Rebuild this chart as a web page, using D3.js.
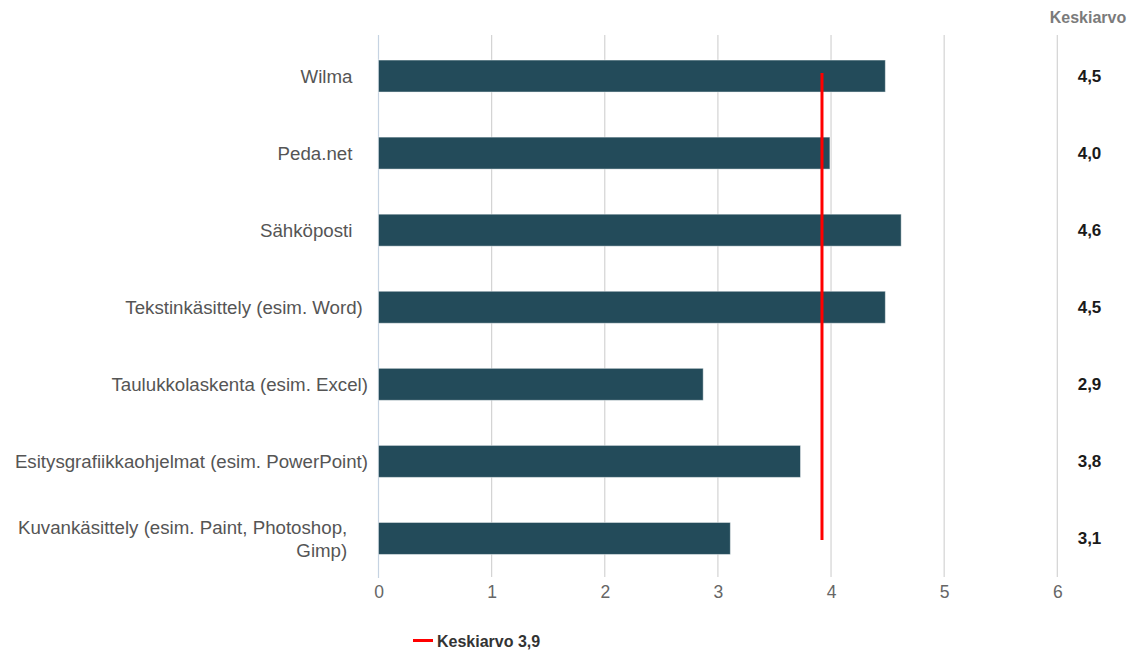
<!DOCTYPE html>
<html><head><meta charset="utf-8">
<script src="https://cdn.jsdelivr.net/npm/d3@7"></script>
<style>
body{margin:0;background:#fff}
svg text{font-family:"Liberation Sans",Arial,sans-serif;white-space:pre}
</style>
</head><body>
<svg id="c" width="1133" height="650" xml:space="preserve"></svg>
<script>
// ---- data ----
const categories = [
  "Wilma   ",
  "Peda.net   ",
  "Sähköposti   ",
  "Tekstinkäsittely (esim. Word) ",
  "Taulukkolaskenta (esim. Excel)",
  "Esitysgrafiikkaohjelmat (esim. PowerPoint)",
  "Kuvankäsittely (esim. Paint, Photoshop, Gimp)    "
];
const values = [4.48, 3.99, 4.62, 4.48, 2.87, 3.73, 3.11];
const meanLabels = ["4,5", "4,0", "4,6", "4,5", "2,9", "3,8", "3,1"];
const average = 3.92;
const averageLegend = "Keskiarvo 3,9";
const columnTitle = "Keskiarvo";
const xTicks = [0, 1, 2, 3, 4, 5, 6];

// ---- chart ----
const svg = d3.select("#c");
const x = d3.scaleLinear().domain([0, 6]).range([378.5, 1057.3]);
const y = d3.scaleBand().domain(categories).range([37.5, 577])
  .paddingInner(0.585).paddingOuter(0.2925);
const bw = y.bandwidth();

// gridlines
svg.append("g").selectAll("line").data(xTicks.filter(t => t > 0)).join("line")
  .attr("x1", d => x(d)).attr("x2", d => x(d))
  .attr("y1", 35).attr("y2", 577)
  .attr("stroke", "#d3d3d3").attr("stroke-width", 1.2);
// zero axis line
svg.append("line")
  .attr("x1", x(0)).attr("x2", x(0)).attr("y1", 35).attr("y2", 578)
  .attr("stroke", "#c6d3e2").attr("stroke-width", 1.2);

// x axis labels
const xAxis = d3.axisBottom(x).tickValues(xTicks).tickSize(0).tickPadding(9)
  .tickFormat(d3.format("d"));
const gx = svg.append("g").attr("transform", "translate(0,577)").call(xAxis);
gx.select(".domain").remove();
gx.selectAll("text").attr("font-size", "17.5px").attr("fill", "#666")
  .style("font-family", '"Liberation Sans",Arial,sans-serif');

// bars
svg.append("g").selectAll("rect").data(categories).join("rect")
  .attr("x", x(0))
  .attr("y", d => y(d))
  .attr("width", (d, i) => x(values[i]) - x(0))
  .attr("height", bw)
  .attr("fill", "#234b5a")
  .attr("stroke", "rgba(255,255,255,0.45)").attr("stroke-width", 1);

// average line
svg.append("line")
  .attr("x1", x(average)).attr("x2", x(average))
  .attr("y1", y(categories[0]) + bw / 2 - 3)
  .attr("y2", y(categories[categories.length - 1]) + bw / 2 + 1.5)
  .attr("stroke", "#ff0000").attr("stroke-width", 3);

// category labels (right aligned, wrapped)
const labelFont = 18.7, lineH = 23, maxW = 360;
const measure = svg.append("text").attr("font-size", labelFont + "px").attr("visibility", "hidden");
function textW(s) { measure.text(s); return measure.node().getComputedTextLength(); }
const lg = svg.append("g");
categories.forEach((c, i) => {
  const m = c.match(/^(.*?)(\s*)$/);
  const words = m[1].split(" ");
  const lines = [];
  let cur = "";
  words.forEach(w => {
    const t = cur ? cur + " " + w : w;
    if (cur && textW(t) > maxW) { lines.push(cur); cur = w; } else cur = t;
  });
  lines.push(cur);
  const cy = y(c) + bw / 2;
  const t = lg.append("text").attr("text-anchor", "end")
    .attr("font-size", labelFont + "px").attr("fill", "#555");
  lines.forEach((ln, k) => {
    t.append("tspan").attr("x", 368)
      .attr("y", cy + (k - (lines.length - 1) / 2) * lineH + 0.35 * labelFont)
      .text(ln + m[2]);
  });
});
measure.remove();

// right column
svg.append("text").attr("x", 1088).attr("y", 23).attr("text-anchor", "middle")
  .attr("font-size", "16px").attr("font-weight", "bold").attr("fill", "#7b7b7b")
  .text(columnTitle);
svg.append("g").selectAll("text").data(categories).join("text")
  .attr("x", 1089.5)
  .attr("y", d => y(d) + bw / 2 + 0.35 * 17)
  .attr("text-anchor", "middle").attr("font-size", "17px").attr("font-weight", "bold")
  .attr("fill", "#1a1a1a")
  .text((d, i) => meanLabels[i]);

// legend
svg.append("line").attr("x1", 413).attr("x2", 433).attr("y1", 640.5).attr("y2", 640.5)
  .attr("stroke", "#ff0000").attr("stroke-width", 3);
svg.append("text").attr("x", 437).attr("y", 646.5)
  .attr("font-size", "16px").attr("font-weight", "bold").attr("fill", "#333")
  .text(averageLegend);
</script>
</body></html>
